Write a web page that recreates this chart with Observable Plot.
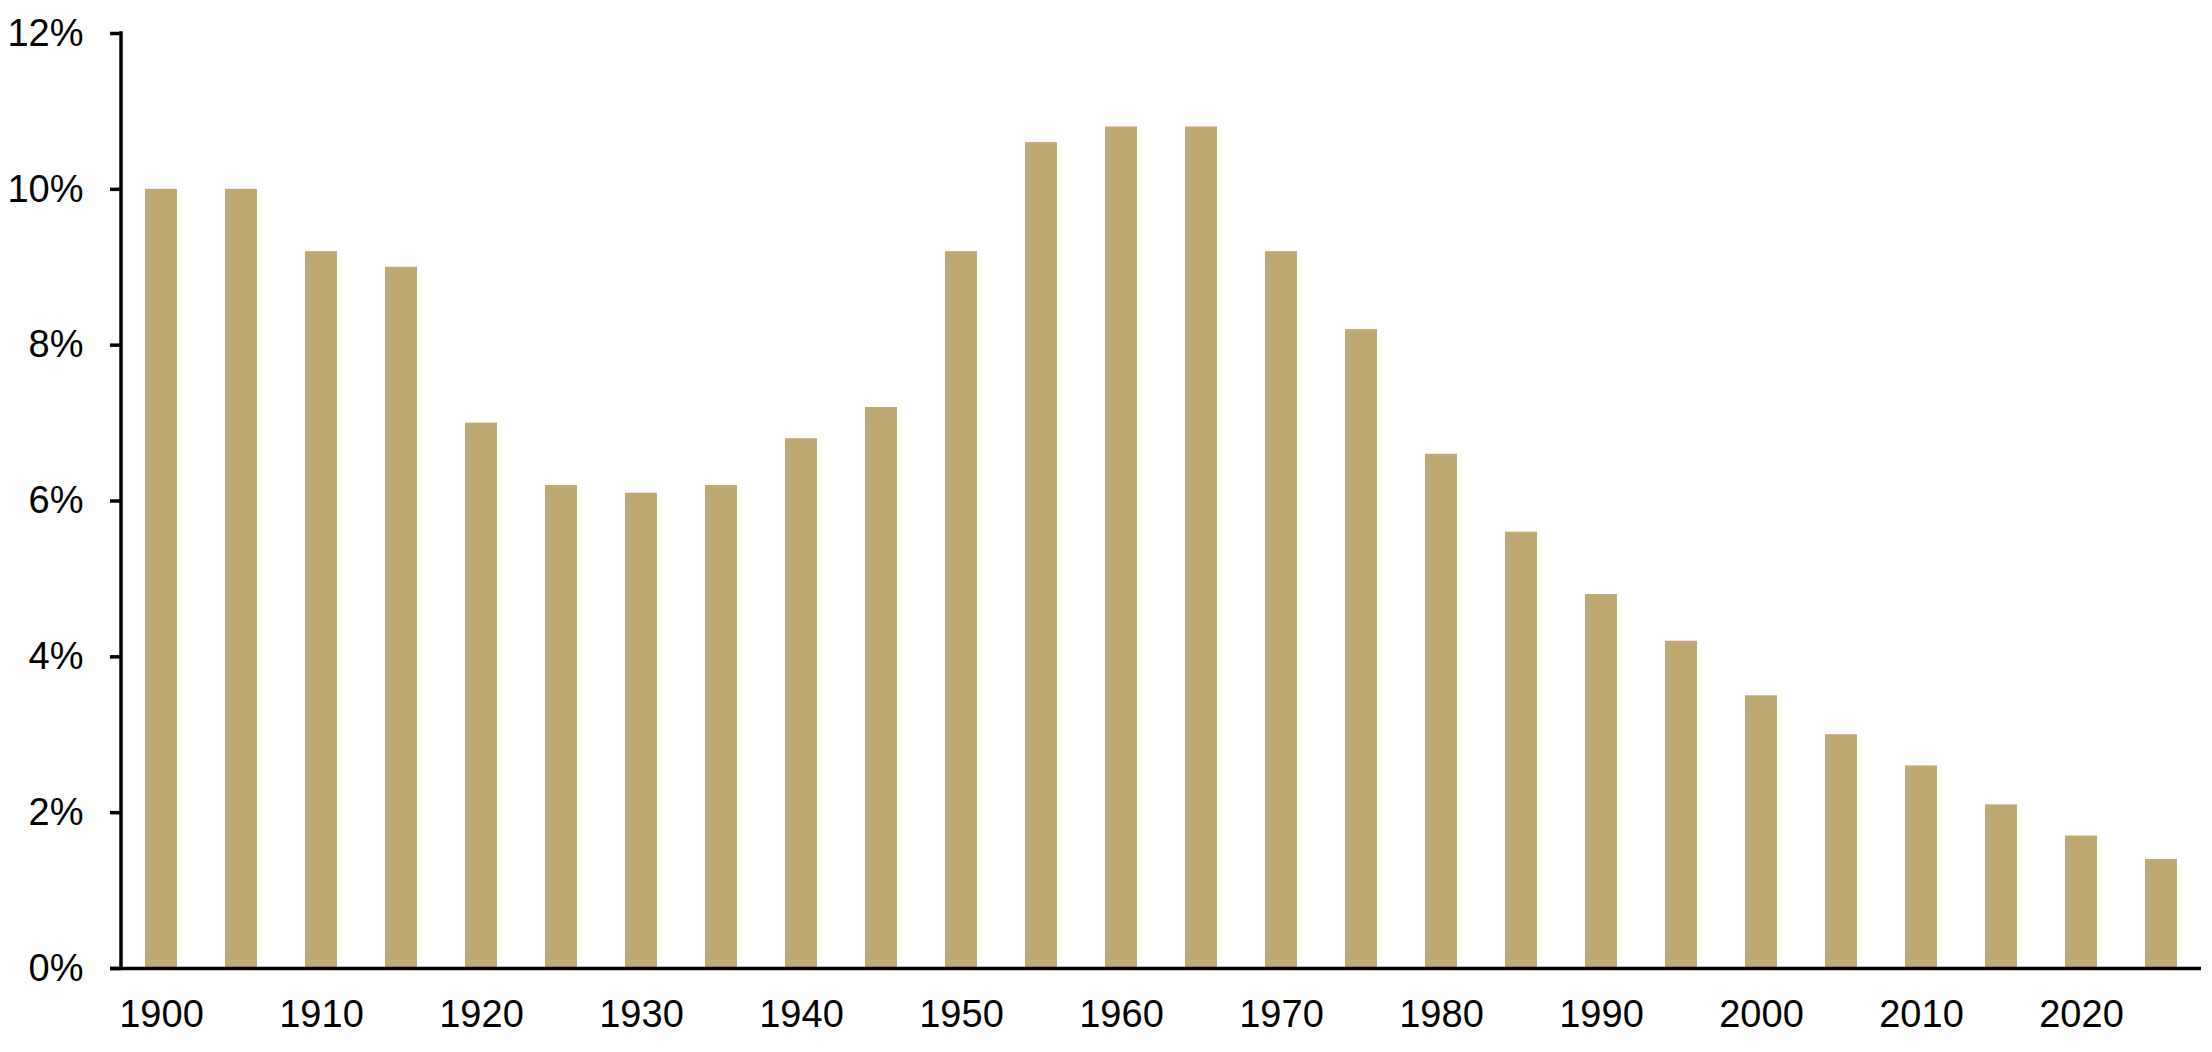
<!DOCTYPE html>
<html>
<head>
<meta charset="utf-8">
<script src="https://cdn.jsdelivr.net/npm/d3@7"></script>
<script src="https://cdn.jsdelivr.net/npm/@observablehq/plot@0.6"></script>
<style>
  html, body { margin: 0; padding: 0; background: #fff; }
</style>
</head>
<body>
<div id="chart"></div>
<script>
const years = [1900, 1905, 1910, 1915, 1920, 1925, 1930, 1935, 1940, 1945, 1950, 1955, 1960,
               1965, 1970, 1975, 1980, 1985, 1990, 1995, 2000, 2005, 2010, 2015, 2020, 2025];
const values = [10.0, 10.0, 9.2, 9.0, 7.0, 6.2, 6.1, 6.2, 6.8, 7.2, 9.2, 10.6, 10.8,
                10.8, 9.2, 8.2, 6.6, 5.6, 4.8, 4.2, 3.5, 3.0, 2.6, 2.1, 1.7, 1.4];
const xTickLabels = [1900, 1910, 1920, 1930, 1940, 1950, 1960, 1970, 1980, 1990, 2000, 2010, 2020];
const yTicks = [0, 2, 4, 6, 8, 10, 12];

const data = years.map((year, i) => ({year, value: values[i]}));

const marginLeft = 121, marginRight = 11, marginTop = 33, marginBottom = 84;

const chart = Plot.plot({
  width: 2212,
  height: 1052,
  marginLeft, marginRight, marginTop, marginBottom,
  style: {fontSize: "38px", fontFamily: "'Liberation Sans', Arial, sans-serif", color: "#000", background: "#fff"},
  x: {type: "band", domain: years, paddingInner: 0.6, paddingOuter: 0.3, round: false, label: null},
  y: {domain: [0, 12], label: null},
  marks: [
    Plot.barY(data, {x: "year", y: "value", fill: "#BFA973"}),
    Plot.axisX({ticks: xTickLabels, tickFormat: d => String(d), tickSize: 0, tickPadding: 32, label: null, fill: "#000"}),
    Plot.axisY({ticks: yTicks, tickFormat: d => d + "%", tickSize: 11, tickPadding: 27, strokeWidth: 3.5, stroke: "#000", label: null, fill: "#000"}),
    Plot.ruleY([0], {stroke: "#000", strokeWidth: 3.5, insetLeft: -11})
  ]
});

// vertical axis line along the left edge of the frame
const y = chart.scale("y");
d3.select(chart).append("line")
  .attr("x1", marginLeft).attr("x2", marginLeft)
  .attr("y1", y.apply(12) - 1.75).attr("y2", y.apply(0) + 1.75)
  .attr("stroke", "#000").attr("stroke-width", 3.5);

document.getElementById("chart").appendChild(chart);
</script>
</body>
</html>
